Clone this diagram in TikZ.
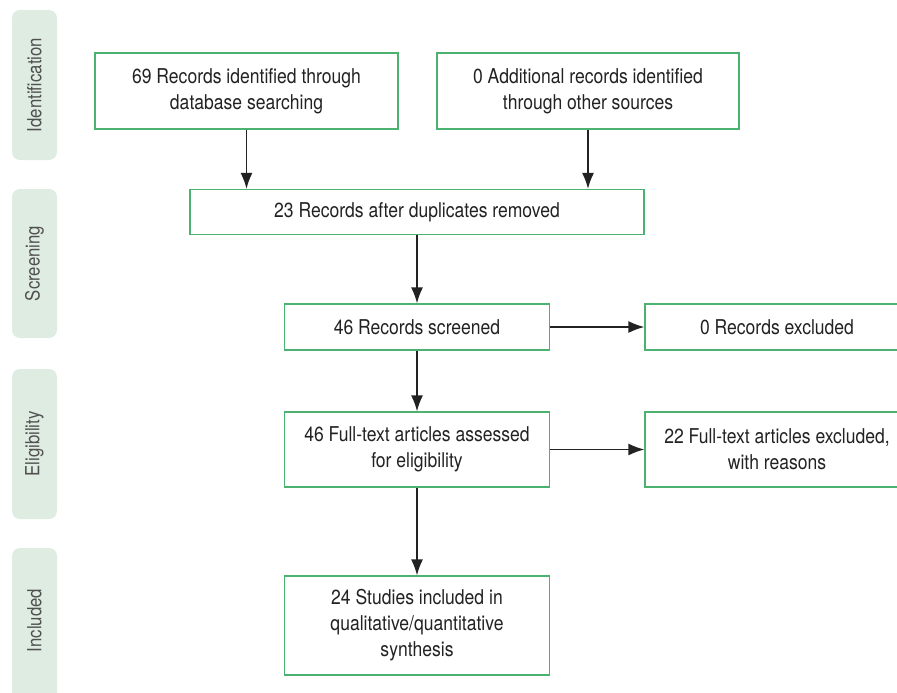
\documentclass[tikz,border=0pt]{standalone}
\usepackage{fontspec}
\setmainfont[FakeStretch=0.86]{TeX Gyre Heros}
\usepackage{tikz}
\usetikzlibrary{arrows.meta}
\usetikzlibrary{shapes}
\definecolor{boxgreen}{RGB}{76,178,112}
\definecolor{barfill}{RGB}{222,236,226}
\definecolor{bartext}{RGB}{80,80,80}
\definecolor{inktext}{RGB}{34,34,34}

\begin{document}
\begin{tikzpicture}[x=1pt,y=-1pt,>={Latex[length=16pt,width=12pt]},
  flowbox/.style={draw=boxgreen,line width=1.3pt,fill=white,inner sep=0pt,align=center,
    text=inktext,font=\fontsize{20.4}{26}\selectfont},
  phasebar/.style={fill=barfill,rounded corners=8pt},
  phaselabel/.style={rotate=90,text=bartext,font=\fontsize{19.5}{21}\selectfont},
  flowarrow/.style={->,draw=inktext,line width=1.4pt}]
%%
\clip (0,0) rectangle (897,693);
\useasboundingbox (0,0) rectangle (897,693);
%% phase bars
\fill[phasebar] (12,10) rectangle (57,160);
\fill[phasebar] (12,189) rectangle (57,338);
\fill[phasebar] (12,369) rectangle (57,519);
\fill[phasebar] (12,548) rectangle (57,730);
\node (lab_id) at (34.5,85) [phaselabel] {Identification};
\node (lab_sc) at (34.5,263.5) [phaselabel] {Screening};
\node (lab_el) at (34.5,444) [phaselabel] {Eligibility};
\node (lab_in) at (34.5,620.5) [phaselabel] {Included};
%% boxes
\node (node_db) at (246.5,91) [flowbox,minimum width=303pt,minimum height=76pt] {69 Records identified through\\database searching};
  \node (node_other) at (588,91) [flowbox,minimum width=302pt,minimum height=76pt] {0 Additional records identified\\through other sources};
  \node (node_dup) at (417,212) [flowbox,minimum width=454pt,minimum height=45pt] {23 Records after duplicates removed};
  \node (node_scr) at (417,327) [flowbox,minimum width=265pt,minimum height=46pt] {46 Records screened};
  \node (node_exc) at (777,327) [flowbox,minimum width=264pt,minimum height=46pt] {0 Records excluded};
  \node (node_full) at (417,449.5) [flowbox,minimum width=265pt,minimum height=75pt] {46 Full-text articles assessed\\for eligibility};
  \node (node_fexc) at (777,449.5) [flowbox,minimum width=264pt,minimum height=75pt] {22 Full-text articles excluded,\\with reasons};
  \node (node_inc) at (417,625.5) [flowbox,minimum width=265pt,minimum height=99pt] {24 Studies included in\\qualitative/quantitative\\synthesis};
%% arrows
\draw [flowarrow] (node_db) -- (node_db |- node_dup.north);
  \draw [flowarrow] (node_other) -- (node_other |- node_dup.north);
  \draw [flowarrow] (node_dup) -- (node_scr);
  \draw [flowarrow] (node_scr) -- (node_exc);
  \draw [flowarrow] (node_scr) -- (node_full);
  \draw [flowarrow] (node_full) -- (node_fexc);
  \draw [flowarrow] (node_full) -- (node_inc);
%
\end{tikzpicture}
\end{document}
